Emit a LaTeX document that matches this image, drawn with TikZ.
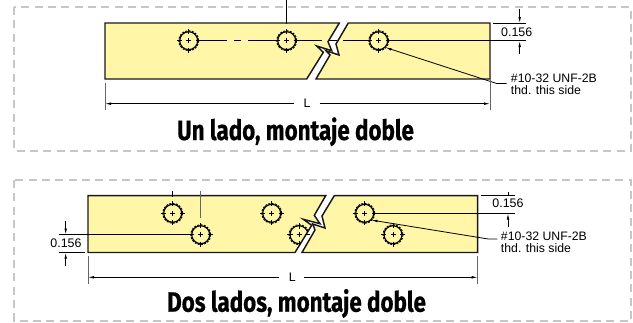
\documentclass[tikz,border=0pt]{standalone}
\usepackage{fontspec}
\setmainfont{Liberation Sans}
\newfontfamily\titlefont[FakeStretch=0.8,FakeBold=0.6]{Fira Sans}
\usetikzlibrary{arrows.meta,calc}
\definecolor{barfill}{HTML}{FFF6A8}
\definecolor{framegray}{HTML}{C6C6C6}
\tikzset{
  panel/.style={framegray,line width=1.8pt,dash pattern=on 6pt off 4pt},
  bar/.style={draw=black!90,fill=barfill,line width=1.1pt,line join=miter},
  hole/.style={circle,draw=black,line width=0.9pt,minimum size=13.5pt,inner sep=0pt},
  thread/.style={line width=0.7pt,dash pattern=on 1.5pt off 1pt},
  tick/.style={line width=0.6pt},
  dimline/.style={line width=0.6pt},
  dimarrow/.style={line width=0.6pt,-{Latex[length=4.5pt,width=2pt]}},
  extline/.style={line width=0.7pt,black!60},
  dimtext/.style={font=\fontsize{9.3}{9.3}\selectfont,inner sep=0pt},
  notetext/.style={font=\fontsize{9.2}{9}\selectfont,inner sep=0pt,align=left,anchor=north west},
  titletext/.style={font=\titlefont\bfseries\fontsize{21}{21}\selectfont,inner sep=0pt,anchor=base}
}
\begin{document}
\begin{tikzpicture}[x=0.75pt,y=-0.75pt]
  \useasboundingbox (0,0) rectangle (633,322);

  \draw [panel] (14,7) rectangle (631,151);
  \draw [panel] (14,180) rectangle (631,321);

  % upper bar
  \draw [bar] (105,23) -- (339.3,23) -- (328,41.7) -- (331.7,50.7) -- (316.7,46)
    -- (323.3,52.3) -- (306.7,79) -- (105,79) -- cycle;
  \draw [bar] (490,23) -- (348.3,23) -- (336,44) -- (339,55) -- (326,50.7)
    -- (330,55) -- (316,79) -- (490,79) -- cycle;
  \node [hole] (a1) at (188.7,40.7) {};
  \node [hole] (a2) at (286.7,40.7) {};
  \node [hole] (a3) at (378.7,40.7) {};

  % lower bar
  \draw [bar] (88,195.7) -- (325.7,195.7) -- (314.3,215.3) -- (320,223.7) -- (303.3,219.3)
    -- (311.7,225.3) -- (295,252.5) -- (88,252.5) -- cycle;
  \draw [bar] (477.7,195.7) -- (334.3,195.7) -- (322,216) -- (325,228) -- (312.7,224)
    -- (315,230) -- (302,252.5) -- (477.7,252.5) -- cycle;
  \node [hole] (b1) at (172.7,213.3) {};
  \node [hole] (b2) at (200.7,234.7) {};
  \node [hole] (b3) at (271.7,213.3) {};
  \node [hole] (b5) at (364.7,213.3) {};
  \node [hole] (b6) at (393,234.7) {};

  % hole cut by the break
  \begin{scope}
    \clip (250,252.5) -- (295,252.5) -- (311.7,225.3) -- (303.3,219.3) -- (290,215) -- (250,215) -- cycle;
    \node [hole] (b4) at (299,234.7) {};
    \draw [thread] (b4) circle [radius=10];
    \foreach \dx/\dy in {1/0,-1/0,0/1,0/-1}
      \draw [tick] ($(b4)+(6*\dx,6*\dy)$) -- ($(b4)+(12*\dx,12*\dy)$);
    \draw [tick] ($(b4)+(-2.5,0)$) -- ($(b4)+(2.5,0)$) ($(b4)+(0,-2.5)$) -- ($(b4)+(0,2.5)$);
  \end{scope}

  \foreach \h in {a1,a2,a3,b1,b2,b3,b5,b6}{
    \draw [thread] (\h) circle [radius=10];
    \foreach \dx/\dy in {1/0,-1/0,0/1,0/-1}
      \draw [tick] ($(\h)+(7*\dx,7*\dy)$) -- ($(\h)+(12*\dx,12*\dy)$);
    \draw [tick] ($(\h)+(-2.5,0)$) -- ($(\h)+(2.5,0)$) ($(\h)+(0,-2.5)$) -- ($(\h)+(0,2.5)$);
  }

  % upper dimensions
  \coordinate (atop) at (286.7,0);
  \coordinate (atopend) at (286.7,24);
  \draw [dimline] (atop) -- (atopend);
  \draw [dimline] (a1.east) -- (226.7,40.7);
  \draw [dimline] (234,40.7) -- +(6.7,0);
  \draw [dimline] (248.3,40.7) -- (a2.west);
  \draw [dimline] (a2.east) -- (321.7,40.7);
  \draw [dimline] (329,40.7) -- +(8,0);
  \draw [dimline] (343.3,40.7) -- (a3.west);
  \coordinate (adimr) at (526,40.7);
  \draw [dimline] (a3.east) -- (adimr);
  \coordinate (aextr) at (526,23.5);
  \draw [dimline] (493,23.5) -- (aextr);
  \node [dimtext] (aval) at (516.7,32) {0.156};
  \draw [dimarrow] (519.7,9) -- (519.7,23);
  \draw [dimarrow] (519.7,54) -- (519.7,41);
  \node [notetext] (anote) at (510.7,73.5) {\#10-32 UNF-2B\\thd. this side};
  \coordinate (aelbow) at (496.7,83.5);
  \draw [dimarrow] (506.7,83.5) -- (aelbow) -- (a3.south east);
  \draw [extline] (105,83) -- (105,110);
  \draw [extline] (490,79) -- (490,110);
  \node [dimtext] (alen) at (307,103.7) {L};
  \draw [dimarrow] (alen.west) ++(-9,0) -- (105,103.7);
  \draw [dimarrow] (alen.east) ++(9,0) -- (490,103.7);
  \node [titletext] (atitle) at (295.5,140) {Un lado, montaje doble};

  % lower dimensions
  \draw [dimline] (172.7,191) -- (172.7,197);
  \draw [extline] (200.7,191) -- (200.7,218);
  \coordinate (bdiml) at (59,234.7);
  \draw [dimline] (bdiml) -- (b2.west);
  \draw [dimline] (59,252.5) -- (85,252.5);
  \node [dimtext] (bvall) at (66,242.9) {0.156};
  \draw [dimarrow] (65.7,221) -- (65.7,234.5);
  \draw [dimarrow] (65.7,266) -- (65.7,252.7);
  \draw [dimline] (306,234.7) -- +(4,0);
  \coordinate (bdimr) at (515,213.3);
  \draw [dimline] (b5.east) -- (bdimr);
  \draw [dimline] (481,195.7) -- (515,195.7);
  \node [dimtext] (bvalr) at (508,203.7) {0.156};
  \draw [dimline] (508,191.7) -- (508,195.7);
  \draw [dimarrow] (508,227) -- (508,213.5);
  \node [notetext] (bnote) at (500.7,232) {\#10-32 UNF-2B\\thd. this side};
  \coordinate (belbow) at (488.3,239);
  \draw [dimarrow] (497.3,239) -- (belbow) -- (b5.south east);
  \draw [extline] (88,256) -- (88,284);
  \draw [extline] (477.7,256) -- (477.7,284);
  \node [dimtext] (blen) at (292.3,277.3) {L};
  \draw [dimarrow] (blen.west) ++(-10,0) -- (88,277.3);
  \draw [dimarrow] (blen.east) ++(8,0) -- (477.7,277.3);
  \node [titletext] (btitle) at (296.5,311.7) {Dos lados, montaje doble};
\end{tikzpicture}
\end{document}
